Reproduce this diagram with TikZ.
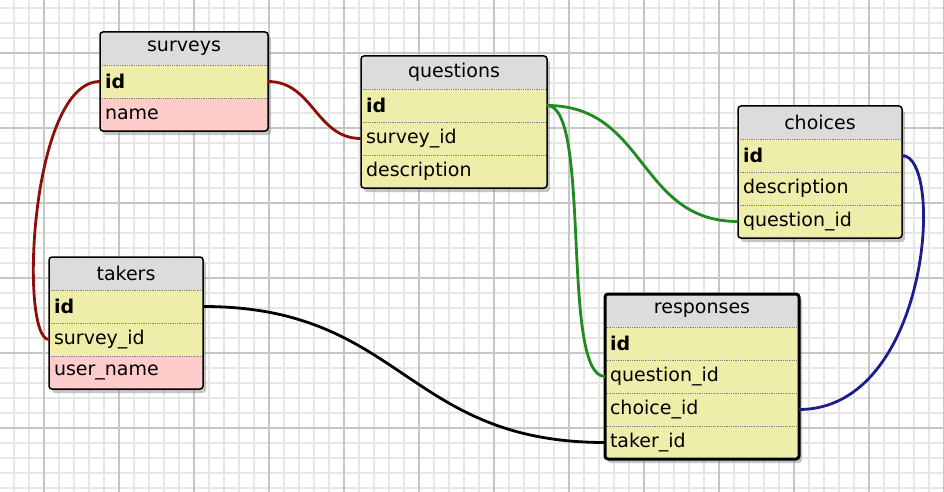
\documentclass[tikz,border=0pt]{standalone}
\usepackage{fontspec}
\setmainfont{DejaVu Sans}
\usepackage{xcolor}
\usetikzlibrary{positioning, shadows}

\definecolor{headgray}{HTML}{DCDCDC}
\definecolor{keyyellow}{HTML}{EEEEAA}
\definecolor{fieldpink}{HTML}{FFCCCC}
\definecolor{minorgray}{HTML}{E6E6E6}
\definecolor{majorgray}{HTML}{C6C6C6}
\definecolor{linkred}{HTML}{8E0E0E}
\definecolor{linkgreen}{HTML}{1F8A1F}
\definecolor{linkblue}{HTML}{1C1C8C}

\tikzstyle{minorline} = [minorgray, line width=1.5pt]
\tikzstyle{majorline} = [majorgray, line width=1.5pt]
\tikzstyle{tablebox} = [fill=white, rounded corners=3pt, drop shadow={shadow xshift=3pt, shadow yshift=-4pt, opacity=0.45}]
\tikzstyle{frame} = [draw=black, line width=1.5pt, rounded corners=3pt]
\tikzstyle{head} = [fill=headgray, minimum height=33pt, inner sep=0pt, outer sep=0pt, font=\fontsize{19}{22}\selectfont]
\tikzstyle{field} = [fill=keyyellow, minimum height=33pt, inner xsep=5pt, inner ysep=0pt, outer sep=0pt, align=left, font=\fontsize{19}{22}\selectfont]
\tikzstyle{key} = [field, font=\fontsize{19}{22}\selectfont\bfseries]
\tikzstyle{rowsep} = [gray, densely dotted, line width=0.8pt]
\tikzstyle{link} = [line width=2.8pt]

\begin{document}
\begin{tikzpicture}[x=1pt, y=-1pt]
    \useasboundingbox (0,0) rectangle (944,492);
    \fill[white] (0,0) rectangle (944,492);
    % grid paper
    \foreach \x in {14,29,...,944} \draw[minorline] (\x,0) -- (\x,492);
    \foreach \y in {8,23,...,492} \draw[minorline] (0,\y) -- (944,\y);
    \foreach \x in {44,119,...,944} \draw[majorline] (\x,0) -- (\x,492);
    \foreach \y in {53,128,...,492} \draw[majorline] (0,\y) -- (944,\y);

    % surveys
    \fill[tablebox] (100,32) rectangle (268,131);
    \node[head, minimum width=168pt, anchor=north west] (surveys) at (100,32) {surveys};
    \node[key, text width=158pt, below=0pt of surveys] (surveys-id) {id};
    \node[field, fill=fieldpink, text width=158pt, below=0pt of surveys-id] (surveys-name) {name};
    \draw[rowsep] (surveys-id.north west) -- (surveys-id.north east);
    \draw[rowsep] (surveys-name.north west) -- (surveys-name.north east);
    \draw[frame] (surveys.north west) rectangle (surveys-name.south east);

    % questions
    \fill[tablebox] (361,56) rectangle (547,188);
    \node[head, minimum width=186pt, anchor=north west] (questions) at (361,56) {questions};
    \node[key, text width=176pt, below=0pt of questions] (questions-id) {id};
    \node[field, text width=176pt, below=0pt of questions-id] (questions-sid) {survey\_id};
    \node[field, text width=176pt, below=0pt of questions-sid] (questions-desc) {description};
    \draw[rowsep] (questions-id.north west) -- (questions-id.north east);
    \draw[rowsep] (questions-sid.north west) -- (questions-sid.north east);
    \draw[rowsep] (questions-desc.north west) -- (questions-desc.north east);
    \draw[frame] (questions.north west) rectangle (questions-desc.south east);

    % choices
    \fill[tablebox] (738,106) rectangle (902,238);
    \node[head, minimum width=164pt, anchor=north west] (choices) at (738,106) {choices};
    \node[key, text width=154pt, below=0pt of choices] (choices-id) {id};
    \node[field, text width=154pt, below=0pt of choices-id] (choices-desc) {description};
    \node[field, text width=154pt, below=0pt of choices-desc] (choices-qid) {question\_id};
    \draw[rowsep] (choices-id.north west) -- (choices-id.north east);
    \draw[rowsep] (choices-desc.north west) -- (choices-desc.north east);
    \draw[rowsep] (choices-qid.north west) -- (choices-qid.north east);
    \draw[frame] (choices.north west) rectangle (choices-qid.south east);

    % takers
    \fill[tablebox] (49,257) rectangle (203,389);
    \node[head, minimum width=154pt, anchor=north west] (takers) at (49,257) {takers};
    \node[key, text width=144pt, below=0pt of takers] (takers-id) {id};
    \node[field, text width=144pt, below=0pt of takers-id] (takers-sid) {survey\_id};
    \node[field, fill=fieldpink, text width=144pt, below=0pt of takers-sid] (takers-uname) {user\_name};
    \draw[rowsep] (takers-id.north west) -- (takers-id.north east);
    \draw[rowsep] (takers-sid.north west) -- (takers-sid.north east);
    \draw[rowsep] (takers-uname.north west) -- (takers-uname.north east);
    \draw[frame] (takers.north west) rectangle (takers-uname.south east);

    % responses
    \fill[tablebox] (605,294) rectangle (799,459);
    \node[head, minimum width=194pt, anchor=north west] (responses) at (605,294) {responses};
    \node[key, text width=184pt, below=0pt of responses] (responses-id) {id};
    \node[field, text width=184pt, below=0pt of responses-id] (responses-qid) {question\_id};
    \node[field, text width=184pt, below=0pt of responses-qid] (responses-cid) {choice\_id};
    \node[field, text width=184pt, below=0pt of responses-cid] (responses-tid) {taker\_id};
    \draw[rowsep] (responses-id.north west) -- (responses-id.north east);
    \draw[rowsep] (responses-qid.north west) -- (responses-qid.north east);
    \draw[rowsep] (responses-cid.north west) -- (responses-cid.north east);
    \draw[rowsep] (responses-tid.north west) -- (responses-tid.north east);
    \draw[frame, line width=3pt] (responses.north west) rectangle (responses-tid.south east);

    % links
    \draw[link, linkred] (surveys-id.west) .. controls +(-70,0) and +(-30,0) .. (takers-sid.west);
    \draw[link, linkred] (surveys-id.east) .. controls +(45,0) and +(-45,0) .. (questions-sid.west);
    \draw[link, linkgreen] (questions-id.east) .. controls +(100,0) and +(-100,0) .. (choices-qid.west);
    \draw[link, linkgreen] (questions-id.east) .. controls +(45,0) and +(-45,0) .. (responses-qid.west);
    \draw[link, linkblue] (choices-id.east) .. controls +(43,0) and +(131,0) .. (responses-cid.east);
    \draw[link] (takers-id.east) .. controls +(200,0) and +(-200,0) .. (responses-tid.west);
\end{tikzpicture}
\end{document}
